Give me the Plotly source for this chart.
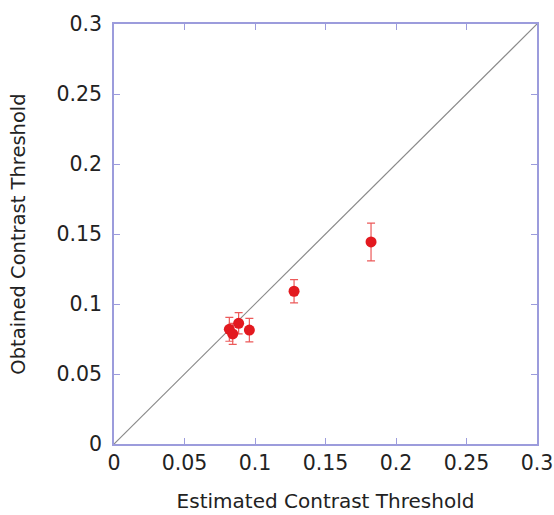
import plotly.graph_objects as go

estimated = [0.1823, 0.1277, 0.0960, 0.0884, 0.0818, 0.0842]
obtained = [0.1443, 0.1091, 0.0814, 0.0862, 0.0819, 0.0786]
errors = [0.0135, 0.0083, 0.0084, 0.0076, 0.0085, 0.0075]
diag = [0, 0.3]
tick_vals = [0, 0.05, 0.1, 0.15, 0.2, 0.25, 0.3]
tick_text = ["0", "0.05", "0.1", "0.15", "0.2", "0.25", "0.3"]

frame = "#9c9cdc"
font = "DejaVu Sans"

fig = go.Figure()
fig.add_trace(go.Scatter(x=diag, y=diag, mode="lines",
                         line=dict(color="#8a8a8a", width=1.2),
                         hoverinfo="skip", showlegend=False))
fig.add_trace(go.Scatter(
    x=estimated, y=obtained, mode="markers",
    marker=dict(color="#e3191f", size=11),
    error_y=dict(type="data", array=errors, visible=True,
                 color="#ec5a5a", thickness=1.2, width=4),
    showlegend=False))

axis_common = dict(
    range=[0, 0.3], tickvals=tick_vals, ticktext=tick_text,
    showgrid=False, zeroline=False, showline=True, linecolor=frame,
    linewidth=1.5, mirror="ticks", ticks="inside", ticklen=6,
    tickcolor=frame, tickwidth=1.2, automargin=False,
    tickfont=dict(family=font, size=20.5, color="#222222"),
)

fig.update_layout(
    width=554, height=515,
    margin=dict(l=114, r=17, t=24, b=71),
    paper_bgcolor="white", plot_bgcolor="white",
    xaxis=dict(**axis_common,
               title=dict(text="Estimated Contrast Threshold",
                          font=dict(family=font, size=20, color="#222222"),
                          standoff=20)),
    yaxis=dict(**axis_common, ticklabelstandoff=6,
               title=dict(text="Obtained Contrast Threshold",
                          font=dict(family=font, size=19.5, color="#222222"),
                          standoff=26)),
)

fig.write_html("out.html")
